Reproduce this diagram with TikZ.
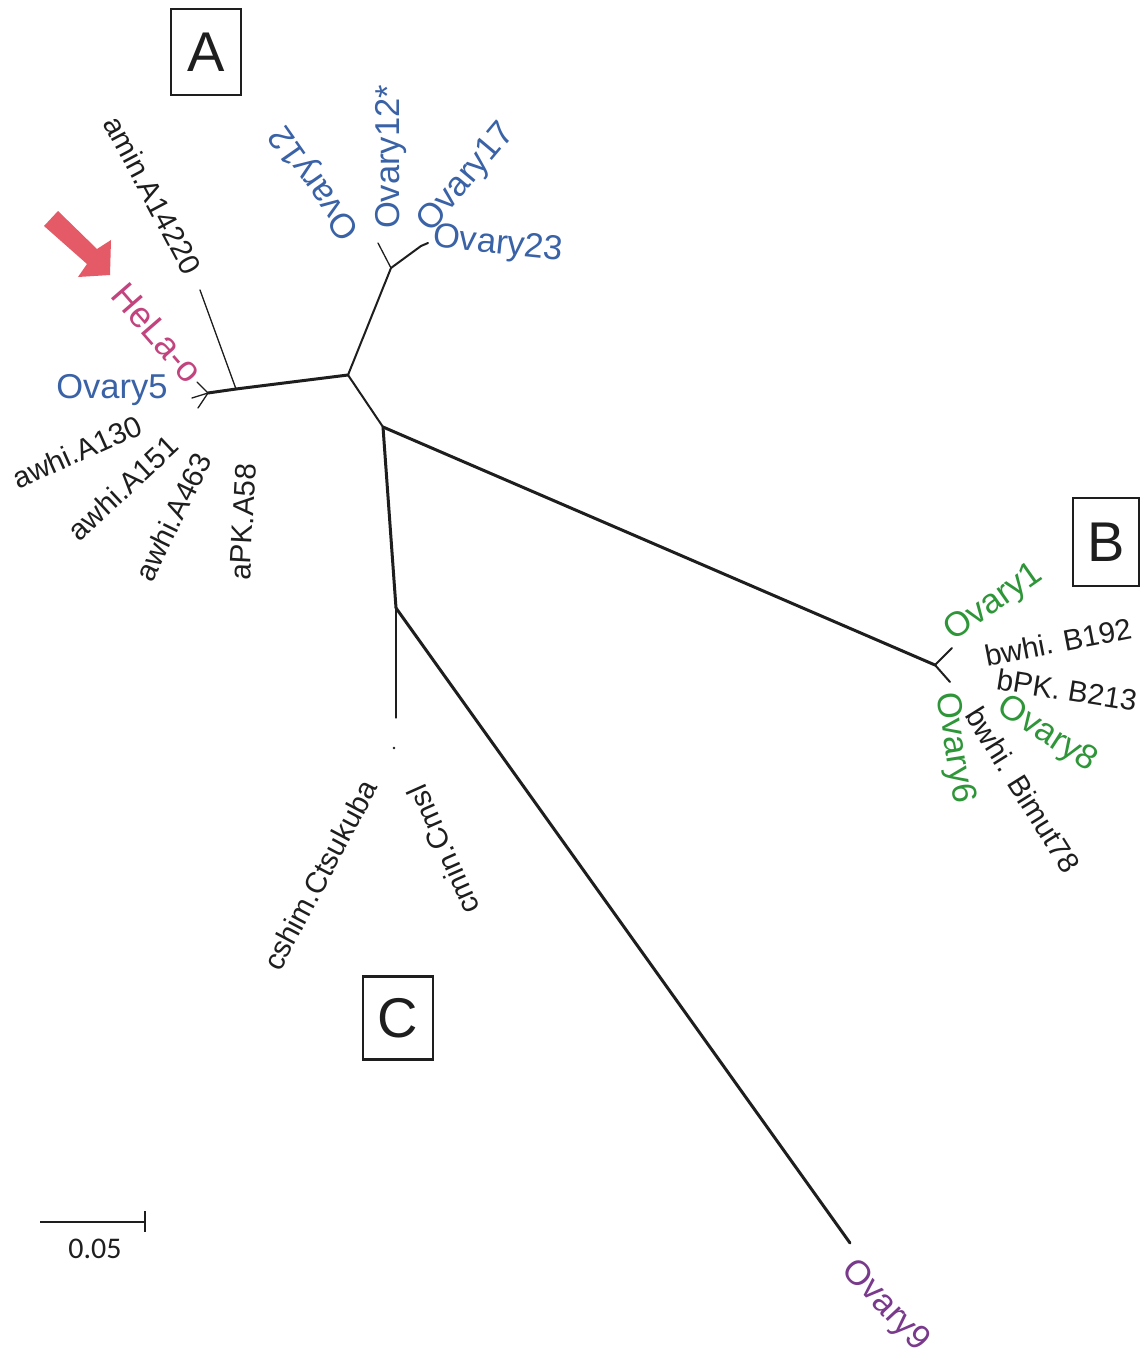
\documentclass[tikz,border=0pt]{standalone}
\usepackage{fontspec}
\setmainfont{Liberation Sans}
\newfontfamily\calib{Carlito}
\definecolor{cblue}{HTML}{3A62A6}
\definecolor{cgreen}{HTML}{2E9638}
\definecolor{cmag}{HTML}{C2437E}
\definecolor{cpurp}{HTML}{7A3A8C}
\definecolor{cred}{HTML}{E45A66}
\definecolor{cink}{HTML}{1E1E1E}
\begin{document}
\begin{tikzpicture}[x=1pt,y=-1pt,
  thick branch/.style={draw=cink,line width=3pt,line cap=round},
  mid branch/.style={draw=cink,line width=2pt,line cap=round},
  thin branch/.style={draw=cink,line width=1.3pt,line cap=round},
  blk/.style={inner sep=0pt,text=cink,font=\fontsize{29.5}{33}\selectfont},
  blu/.style={inner sep=0pt,text=cblue,font=\fontsize{34.5}{39}\selectfont},
  grn/.style={inner sep=0pt,text=cgreen,font=\fontsize{34.5}{39}\selectfont},
  boxlbl/.style={draw=cink,line width=2.6pt,minimum width=70pt,minimum height=86pt,inner sep=0pt,text=cink,font=\fontsize{56}{60}\selectfont}]
\useasboundingbox (0,0) rectangle (1141,1359);
\fill[white] (0,0) rectangle (1141,1359);

% tree junctions
\coordinate (nA1) at (208,393);
\coordinate (nA2) at (236,389);
\coordinate (nR) at (348,375);
\coordinate (nT) at (391,268);
\coordinate (nM) at (383,427);
\coordinate (nB) at (935,665);
\coordinate (nC) at (396,608);
% tips
\coordinate (tAmin) at (200,290);
\coordinate (tHeLa) at (197,382);
\coordinate (tOv5a) at (192,398);
\coordinate (tOv5b) at (198,408);
\coordinate (tOv12) at (378,243);
\coordinate (tOv23) at (421,246);
\coordinate (tOv23b) at (428,243);
\coordinate (tB1) at (952,648);
\coordinate (tB2) at (950,682);
\coordinate (tC) at (396,718);
\coordinate (tOv9) at (850,1243);

% branches
\draw[thin branch] (nA1) -- (tHeLa);
\draw[thin branch] (nA1) -- (tOv5a);
\draw[thin branch] (nA1) -- (tOv5b);
\draw[thick branch] (nA1) -- (nA2);
\draw[thin branch] (nA2) -- (tAmin);
\draw[thick branch] (nA2) -- (nR);
\draw[mid branch] (nR) -- (nT);
\draw[thin branch] (nT) -- (tOv12);
\draw[mid branch] (nT) -- (tOv23) -- (tOv23b);
\draw[mid branch] (nR) -- (nM);
\draw[thick branch] (nM) -- (nB);
\draw[mid branch] (nB) -- (tB1);
\draw[mid branch] (nB) -- (tB2);
\draw[thick branch] (nM) -- (nC);
\draw[thin branch] (nC) -- (tC);
\draw[thick branch] (nC) -- (tOv9);
\fill[cink] (394,748) circle (1.4pt);

% red arrow
\fill[cred] (44,226) -- (58,211) -- (97,249) -- (111,240) -- (110,275) -- (78,277) -- (87,264) -- cycle;

% clade boxes
\node[boxlbl] (boxA) at (206,52) {A};
\node[boxlbl,minimum width=66pt,minimum height=88pt] (boxB) at (1106,542) {B};
\node[boxlbl,minimum height=83pt] (boxC) at (398,1018) {C};

% clade A labels
\node[blk,rotate=-62] (lAmin) at (153,195) {amin.A14220};
\node[inner sep=0pt,text=cmag,font=\fontsize{36}{40}\selectfont,rotate=-49] (lHeLa) at (157,333) {HeLa-o};
\node[blu] (lOv5) at (112,390) {Ovary5};
\node[blk,rotate=24] (lA130) at (77,452) {awhi.A130};
\node[blk,rotate=43] (lA151) at (123,488) {awhi.A151};
\node[blk,rotate=64] (lA463) at (173,517) {awhi.A463};
\node[blk,rotate=87] (lA58) at (243,522) {aPK.A58};

% Ovary12 cluster
\node[blu,rotate=125] (lOv12) at (316,182) {Ovary12};
\node[blu,rotate=90] (lOv12s) at (391,157) {Ovary12*};
\node[blu,rotate=50] (lOv17) at (467,178) {Ovary17};
\node[blu,rotate=-6] (lOv23) at (498,245) {Ovary23};

% clade B labels
\node[grn,rotate=35] (lOv1) at (994,603) {Ovary1};
\node[blk,rotate=11] (lB192) at (1058,642) {bwhi. B192};
\node[blk,rotate=-9] (lB213) at (1067,690) {bPK. B213};
\node[grn,rotate=-33] (lOv8) at (1047,735) {Ovary8};
\node[grn,rotate=-81] (lOv6) at (954,748) {Ovary6};
\node[blk,rotate=-58] (lBim) at (1023,790) {bwhi. Bimut78};

% clade C labels
\node[blk,rotate=62] (lCts) at (320,875) {cshim.Ctsukuba};
\node[blk,rotate=114] (lCmsl) at (443,850) {cmin.Cmsl};

% Ovary9
\node[inner sep=0pt,text=cpurp,font=\fontsize{34.5}{39}\selectfont,rotate=-47] (lOv9) at (885,1306) {Ovary9};

% scale bar
\coordinate (sb1) at (40,1222);
\coordinate (sb2) at (145,1222);
\coordinate (sbt1) at (145,1211);
\coordinate (sbt2) at (145,1232);
\draw[cink,line width=1.6pt] (sb1) -- (sb2);
\draw[cink,line width=1.6pt] (sbt1) -- (sbt2);
\node[inner sep=0pt,text=cink,font=\calib\fontsize{30}{33}\selectfont] (lsb) at (95,1249) {0.05};
\end{tikzpicture}
\end{document}
